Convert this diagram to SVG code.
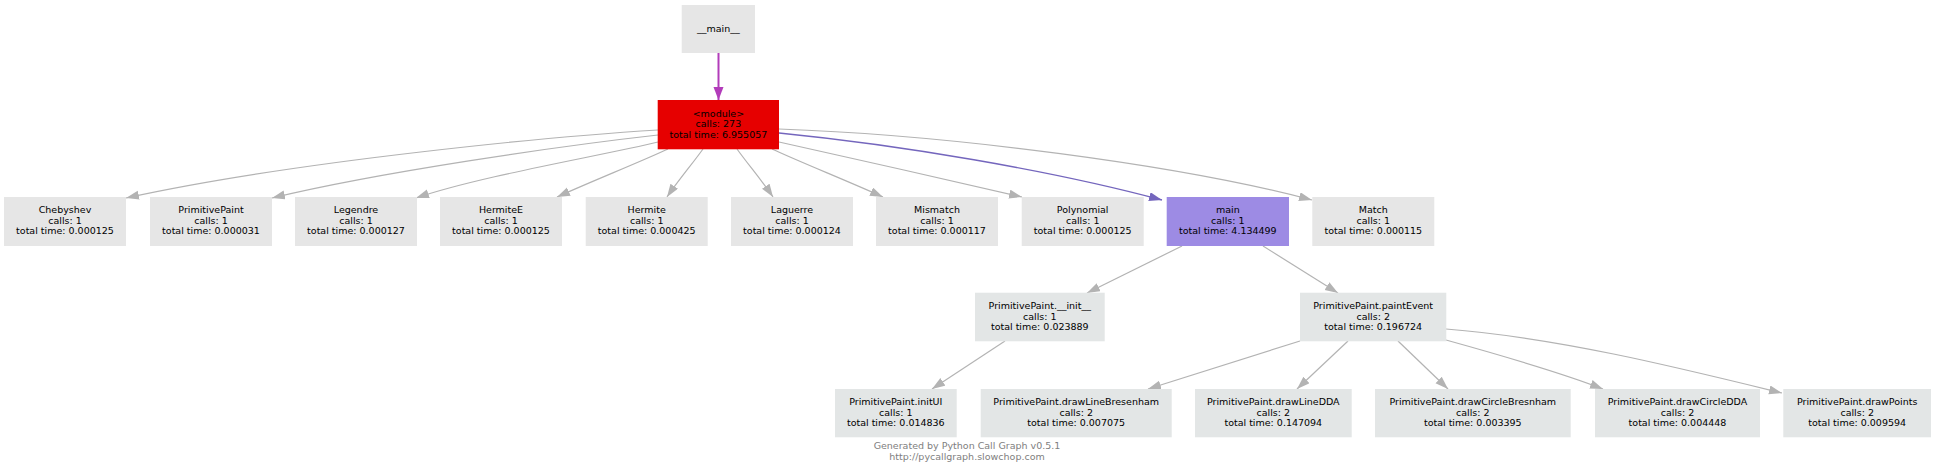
<svg xmlns="http://www.w3.org/2000/svg" width="1936" height="475" viewBox="0 0 1936 475">
<style>
  .n rect { fill: #e6e6e6; stroke: none; }
  .n.b rect { fill: #e3e6e6; }
  .n.mod rect { fill: #e60000; }
  .n.mn rect { fill: #9d8be4; }
  .n text { font-family: "DejaVu Sans", Verdana, sans-serif; font-size: 9.5px; fill: #000; text-anchor: middle; }
  .e { fill: none; stroke: #b3b3b3; stroke-width: 1.2; }
  .e.g { marker-end: url(#ag); }
  .e.p { stroke: #b23cba; stroke-width: 2; marker-end: url(#ap); }
  .e.s { stroke: #7466bd; stroke-width: 1.4; marker-end: url(#as); }
  .foot { font-family: "DejaVu Sans", Verdana, sans-serif; font-size: 9.5px; fill: #808080; text-anchor: middle; }
</style>
<defs>
  <marker id="ag" markerUnits="userSpaceOnUse" markerWidth="14" markerHeight="10" refX="13" refY="4.5" orient="auto"><path d="M0,0 L13,4.5 L0,9 z" fill="#b3b3b3"/></marker>
  <marker id="ap" markerUnits="userSpaceOnUse" markerWidth="14" markerHeight="11" refX="13" refY="5" orient="auto"><path d="M0,0 L13,5 L0,10 z" fill="#b23cba"/></marker>
  <marker id="as" markerUnits="userSpaceOnUse" markerWidth="14" markerHeight="10" refX="13" refY="4.5" orient="auto"><path d="M0,0 L13,4.5 L0,9 z" fill="#7466bd"/></marker>
</defs>
<rect x="0" y="0" width="1936" height="475" fill="#ffffff"/>
<g id="connectors">
  <path class="e p" d="M718.5,53 L718.5,100"/>
  <path class="e g" d="M658,130 C560,136 300,160 126,198"/>
  <path class="e g" d="M658,135 C560,146 380,172 272,198"/>
  <path class="e g" d="M658,142 C600,156 480,176 416,198"/>
  <path class="e g" d="M668,149 C640,162 590,182 557,197"/>
  <path class="e g" d="M703,149 C693,163 677,182 667,197"/>
  <path class="e g" d="M737,149 C747,163 763,182 773,197"/>
  <path class="e g" d="M772,149 C800,162 850,182 883,197"/>
  <path class="e g" d="M779,142 C850,158 950,180 1022,197"/>
  <path class="e s" d="M779,133 C900,145 1050,170 1162,200"/>
  <path class="e g" d="M779,129 C950,135 1180,165 1312,200"/>
  <path class="e g" d="M1182,246 L1087,293"/>
  <path class="e g" d="M1263,246 L1338,293"/>
  <path class="e g" d="M1005,341 L932,389"/>
  <path class="e g" d="M1300,341 L1148,389"/>
  <path class="e g" d="M1348,341 L1297,389"/>
  <path class="e g" d="M1398,341 L1448,389"/>
  <path class="e g" d="M1446,340 C1500,355 1560,372 1603,389"/>
  <path class="e g" d="M1446,329 C1560,338 1680,368 1782,393"/>
</g>
<g id="node-main-entry" class="n"><rect x="681.7" y="5" width="73.3" height="48"/><text x="718.4" y="32.3">__main__</text></g>
<g id="node-module" class="n mod"><rect x="657.7" y="100" width="121.3" height="49.3"/><text x="718.4" y="116.5">&lt;module&gt;</text><text x="718.4" y="127">calls: 273</text><text x="718.4" y="137.5">total time: 6.955057</text></g>
<g id="node-chebyshev" class="n"><rect x="4" y="197" width="122" height="49"/><text x="65" y="213.3">Chebyshev</text><text x="65" y="223.8">calls: 1</text><text x="65" y="234.3">total time: 0.000125</text></g>
<g id="node-primitivepaint" class="n"><rect x="150" y="197" width="122" height="49"/><text x="211" y="213.3">PrimitivePaint</text><text x="211" y="223.8">calls: 1</text><text x="211" y="234.3">total time: 0.000031</text></g>
<g id="node-legendre" class="n"><rect x="295" y="197" width="122" height="49"/><text x="356" y="213.3">Legendre</text><text x="356" y="223.8">calls: 1</text><text x="356" y="234.3">total time: 0.000127</text></g>
<g id="node-hermitee" class="n"><rect x="440" y="197" width="122" height="49"/><text x="501" y="213.3">HermiteE</text><text x="501" y="223.8">calls: 1</text><text x="501" y="234.3">total time: 0.000125</text></g>
<g id="node-hermite" class="n"><rect x="585.7" y="197" width="122" height="49"/><text x="646.7" y="213.3">Hermite</text><text x="646.7" y="223.8">calls: 1</text><text x="646.7" y="234.3">total time: 0.000425</text></g>
<g id="node-laguerre" class="n"><rect x="731" y="197" width="122" height="49"/><text x="792" y="213.3">Laguerre</text><text x="792" y="223.8">calls: 1</text><text x="792" y="234.3">total time: 0.000124</text></g>
<g id="node-mismatch" class="n"><rect x="876" y="197" width="122" height="49"/><text x="937" y="213.3">Mismatch</text><text x="937" y="223.8">calls: 1</text><text x="937" y="234.3">total time: 0.000117</text></g>
<g id="node-polynomial" class="n"><rect x="1021.7" y="197" width="122" height="49"/><text x="1082.7" y="213.3">Polynomial</text><text x="1082.7" y="223.8">calls: 1</text><text x="1082.7" y="234.3">total time: 0.000125</text></g>
<g id="node-main" class="n mn"><rect x="1166.7" y="197" width="122.3" height="49"/><text x="1227.8" y="213.3">main</text><text x="1227.8" y="223.8">calls: 1</text><text x="1227.8" y="234.3">total time: 4.134499</text></g>
<g id="node-match" class="n"><rect x="1312.3" y="197" width="122" height="49"/><text x="1373.3" y="213.3">Match</text><text x="1373.3" y="223.8">calls: 1</text><text x="1373.3" y="234.3">total time: 0.000115</text></g>
<g id="node-init" class="n b"><rect x="975" y="292.7" width="129.7" height="48.6"/><text x="1039.8" y="309">PrimitivePaint.__init__</text><text x="1039.8" y="319.5">calls: 1</text><text x="1039.8" y="330">total time: 0.023889</text></g>
<g id="node-paintevent" class="n b"><rect x="1300" y="292.7" width="146.3" height="48.6"/><text x="1373.2" y="309">PrimitivePaint.paintEvent</text><text x="1373.2" y="319.5">calls: 2</text><text x="1373.2" y="330">total time: 0.196724</text></g>
<g id="node-initui" class="n b"><rect x="835" y="389" width="121.7" height="48.3"/><text x="895.8" y="405.3">PrimitivePaint.initUI</text><text x="895.8" y="415.8">calls: 1</text><text x="895.8" y="426.3">total time: 0.014836</text></g>
<g id="node-drawlinebresenham" class="n b"><rect x="980.7" y="389" width="191" height="48.3"/><text x="1076.2" y="405.3">PrimitivePaint.drawLineBresenham</text><text x="1076.2" y="415.8">calls: 2</text><text x="1076.2" y="426.3">total time: 0.007075</text></g>
<g id="node-drawlinedda" class="n b"><rect x="1195" y="389" width="156.7" height="48.3"/><text x="1273.3" y="405.3">PrimitivePaint.drawLineDDA</text><text x="1273.3" y="415.8">calls: 2</text><text x="1273.3" y="426.3">total time: 0.147094</text></g>
<g id="node-drawcirclebresnham" class="n b"><rect x="1375" y="389" width="195.7" height="48.3"/><text x="1472.8" y="405.3">PrimitivePaint.drawCircleBresnham</text><text x="1472.8" y="415.8">calls: 2</text><text x="1472.8" y="426.3">total time: 0.003395</text></g>
<g id="node-drawcircledda" class="n b"><rect x="1595" y="389" width="165" height="48.3"/><text x="1677.5" y="405.3">PrimitivePaint.drawCircleDDA</text><text x="1677.5" y="415.8">calls: 2</text><text x="1677.5" y="426.3">total time: 0.004448</text></g>
<g id="node-drawpoints" class="n b"><rect x="1783.3" y="389" width="147.7" height="48.3"/><text x="1857.2" y="405.3">PrimitivePaint.drawPoints</text><text x="1857.2" y="415.8">calls: 2</text><text x="1857.2" y="426.3">total time: 0.009594</text></g>
<text class="foot" x="967" y="449">Generated by Python Call Graph v0.5.1</text>
<text class="foot" x="967" y="459.5">http://pycallgraph.slowchop.com</text>
</svg>
